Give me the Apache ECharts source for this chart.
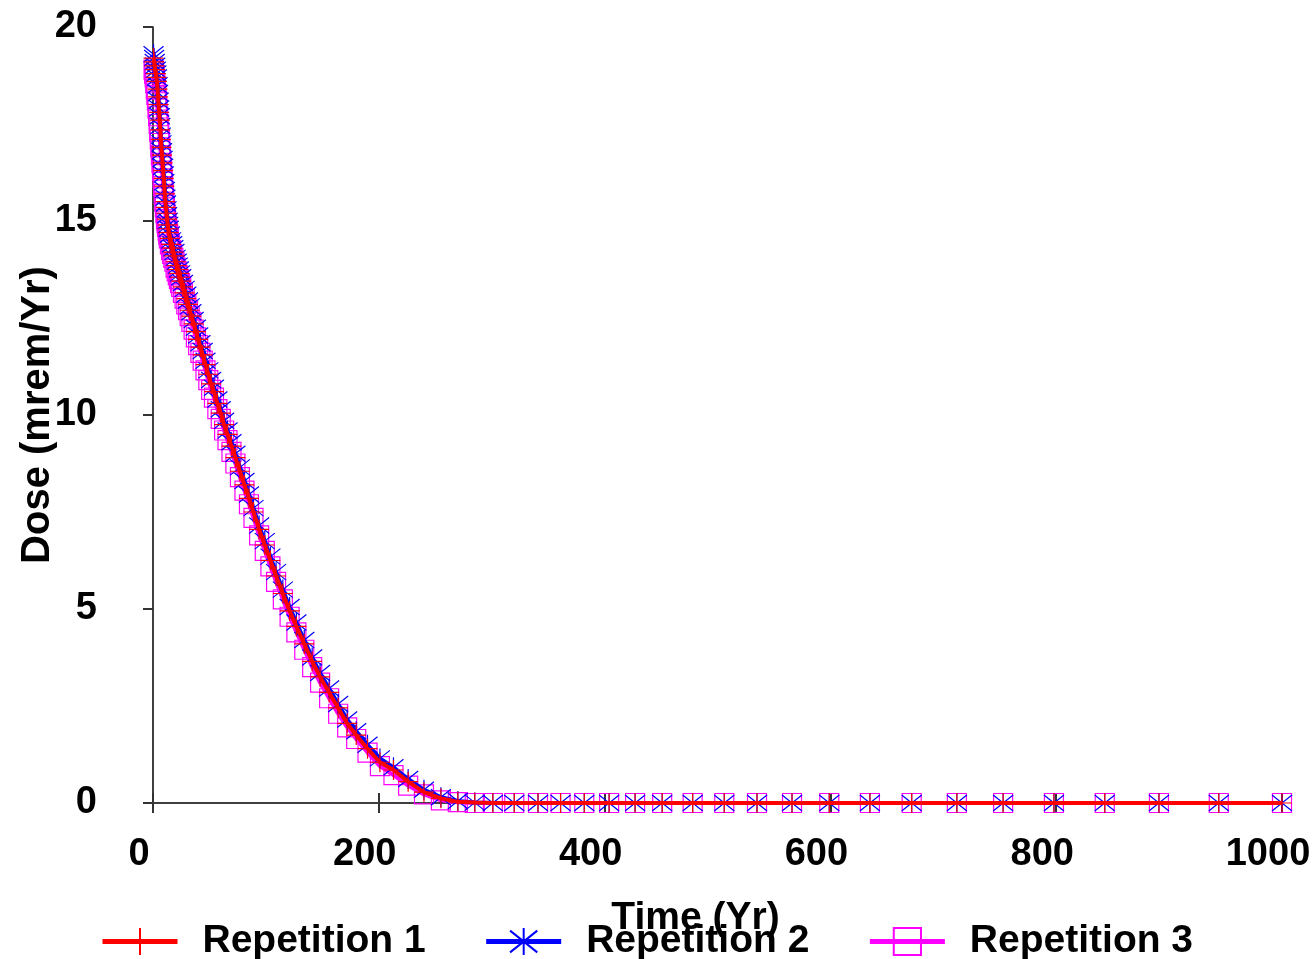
<!DOCTYPE html>
<html>
<head>
<meta charset="utf-8">
<script src="https://cdn.jsdelivr.net/npm/echarts@6/dist/echarts.min.js"></script>
<style>
html,body{margin:0;padding:0;background:#fff;}
#chart{width:1315px;height:959px;}
</style>
</head>
<body>
<div id="chart"></div>
<script>
const seriesNames = ['Repetition 1', 'Repetition 2', 'Repetition 3'];
const times = [0.5,1,1.5,2,2.5,3,3.5,4,4.5,5,5.5,6,6.5,7,7.5,8,8.5,9,9.5,10,10.5,11,11.5,12,12.5,13,13.5,14,
  15,16,17,18,19,20,21,22,23,24,25,
  26.5,28,29.5,31,32.5,34,
  36,38,40,42,44,
  46.5,49,51.5,54,
  57,60,63,66,
  69.5,73,77,81,85,89,
  94,99,104,109,
  115,121,127,134,141,148,
  156,164,172,180,190,
  201,213,226,240,255,270,285,
  301,320,341,361,382,404,427,451,478,506,
  535,566,599,635,672,712,753,798,843,891,944,1000];
const rep1 = [19.2,19.1,19.0,18.9,18.8,18.7,18.6,18.4,18.2,18.0,17.8,17.6,17.35,17.1,16.9,16.7,16.5,16.3,16.1,15.9,15.7,15.5,15.35,15.2,15.05,14.9,14.8,14.7,
  14.55,14.4,14.3,14.2,14.1,13.95,13.85,13.75,13.65,13.55,13.45,
  13.3,13.15,13.0,12.85,12.7,12.55,
  12.35,12.15,11.95,11.75,11.55,
  11.3,11.05,10.8,10.6,
  10.3,10.05,9.75,9.5,
  9.2,8.9,8.55,8.2,7.85,7.5,
  7.05,6.65,6.25,5.85,
  5.4,4.95,4.55,4.1,3.65,3.25,
  2.85,2.45,2.05,1.75,1.4,
  1.05,0.85,0.55,0.28,0.12,0.03,0.01,
  0,0,0,0,0,0,0,0,0,0,
  0,0,0,0,0,0,0,0,0,0,0,0];
const rep2 = [19.3,19.2,19.1,19.0,18.9,18.8,18.7,18.5,18.3,18.1,17.9,17.7,17.45,17.2,17.0,16.8,16.6,16.4,16.2,16.0,15.8,15.6,15.45,15.3,15.15,15.0,14.9,14.8,
  14.65,14.5,14.4,14.3,14.2,14.05,13.95,13.85,13.75,13.65,13.55,
  13.4,13.25,13.1,12.95,12.8,12.65,
  12.45,12.25,12.05,11.85,11.65,
  11.4,11.15,10.9,10.7,
  10.4,10.15,9.85,9.6,
  9.3,9.0,8.65,8.3,7.95,7.6,
  7.15,6.75,6.35,5.95,
  5.5,5.05,4.65,4.2,3.75,3.35,
  2.95,2.55,2.15,1.85,1.5,
  1.15,0.92,0.62,0.34,0.15,0.05,0.01,
  0,0,0,0,0,0,0,0,0,0,
  0,0,0,0,0,0,0,0,0,0,0,0];
const rep3 = [18.9,18.8,18.7,18.55,18.4,18.25,18.1,17.9,17.7,17.5,17.3,17.1,16.9,16.7,16.5,16.3,16.1,15.9,15.7,15.5,15.35,15.2,15.05,14.95,14.85,14.75,14.65,14.55,
  14.4,14.25,14.15,14.05,13.95,13.8,13.7,13.6,13.5,13.4,13.3,
  13.15,13.0,12.85,12.7,12.55,12.4,
  12.2,12.0,11.8,11.6,11.4,
  11.15,10.9,10.65,10.45,
  10.15,9.9,9.6,9.35,
  9.05,8.75,8.4,8.05,7.7,7.35,
  6.9,6.5,6.1,5.7,
  5.25,4.8,4.4,3.95,3.5,3.1,
  2.7,2.3,1.95,1.65,1.3,
  0.95,0.72,0.45,0.22,0.07,0.02,0,
  0,0,0,0,0,0,0,0,0,0,
  0,0,0,0,0,0,0,0,0,0,0,0];

const FONT = '"Liberation Sans", Arial, sans-serif';
const PLUS = 'path://M10,0L10,20M0,10L20,10';
const STAR = 'path://M10,0L10,20M2,2L18,18M18,2L2,18';

function mk(name, vals, color, symbol, size, z) {
  return {
    name: name,
    type: 'line',
    data: times.map((t, i) => [t, vals[i]]),
    symbol: symbol,
    symbolSize: size,
    showAllSymbol: true,
    z: z,
    lineStyle: { color: color, width: 4 },
    itemStyle: { color: 'rgba(0,0,0,0)', borderColor: color, borderWidth: 1.2 },
    emphasis: { disabled: true }
  };
}

const chart = echarts.init(document.getElementById('chart'), null, { renderer: 'canvas' });
chart.setOption({
  animation: false,
  backgroundColor: '#ffffff',
  grid: { left: 153, right: 33, top: 27, bottom: 156, containLabel: false, outerBoundsMode: 'none' },
  legend: {
    data: seriesNames,
    left: 95,
    top: 917,
    itemWidth: 75,
    itemHeight: 34,
    itemGap: 58,
    lineStyle: { width: 5 },
    textStyle: { fontFamily: FONT, fontWeight: 'bold', fontSize: 39, color: '#000', padding: [0, 0, 0, 20] }
  },
  xAxis: [{
    type: 'value',
    min: 0, max: 1000, interval: 200,
    position: 'bottom',
    name: 'Time (Yr)',
    nameLocation: 'middle',
    nameGap: 96,
    nameMoveOverlap: false,
    nameTextStyle: { fontFamily: FONT, fontWeight: 'bold', fontSize: 39, color: '#000', padding: [0, 44, 0, 0] },
    axisLine: { show: true, lineStyle: { color: '#000', width: 1.5 } },
    axisTick: { show: true, inside: false, length: 10, lineStyle: { color: '#333', width: 2 } },
    axisLabel: { margin: 33, fontFamily: FONT, fontWeight: 'bold', fontSize: 38, color: '#000', padding: [0, 28, 0, 0],
      formatter: function (v) { return String(v); } },
    splitLine: { show: false }
  }, {
    type: 'value',
    min: 0, max: 1000, interval: 200,
    position: 'bottom',
    axisLine: { show: false },
    axisTick: { show: true, inside: true, length: 10, lineStyle: { color: '#333', width: 2 } },
    axisLabel: { show: false },
    splitLine: { show: false }
  }],
  yAxis: {
    type: 'value',
    min: 0, max: 20, interval: 5,
    name: 'Dose (mrem/Yr)',
    nameLocation: 'middle',
    nameGap: 95,
    nameMoveOverlap: false,
    nameTextStyle: { fontFamily: FONT, fontWeight: 'bold', fontSize: 40, color: '#000' },
    axisLine: { show: true, lineStyle: { color: '#000', width: 1.5 } },
    axisTick: { show: true, inside: false, length: 10, lineStyle: { color: '#333', width: 2 } },
    axisLabel: { margin: 56, fontFamily: FONT, fontWeight: 'bold', fontSize: 38, color: '#000' },
    splitLine: { show: false }
  },
  series: [
    mk(seriesNames[0], rep1, '#ff0000', PLUS, 20, 4),
    mk(seriesNames[1], rep2, '#0000ff', STAR, 20, 3),
    mk(seriesNames[2], rep3, '#ff00ff', 'rect', 19, 2)
  ]
});
</script>
</body>
</html>
